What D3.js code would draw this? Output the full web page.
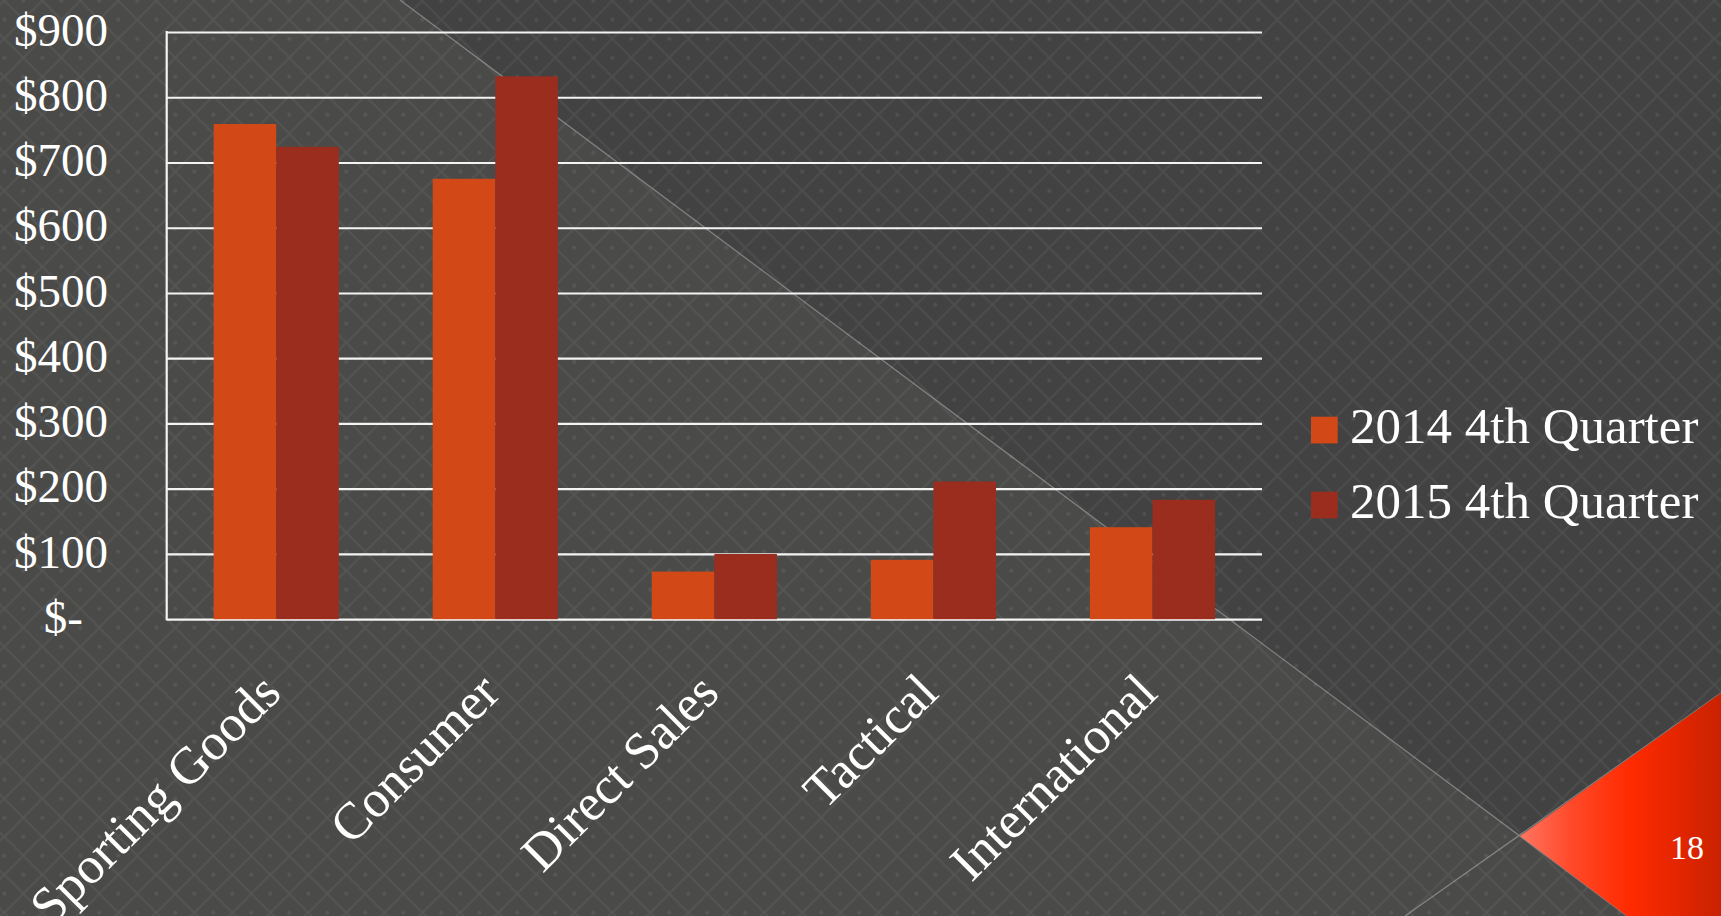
<!DOCTYPE html>
<html><head><meta charset="utf-8">
<script src="https://cdn.jsdelivr.net/npm/d3@7"></script>
<style>
html,body{margin:0;padding:0;background:#444;overflow:hidden}
svg{display:block}
text{font-family:"Liberation Serif","Palatino Linotype","Book Antiqua",Palatino,serif;fill:#fff}
</style></head><body>
<svg id="chart" width="1721" height="916"></svg>
<script>
// ---- data ----
const categories = ["Sporting Goods", "Consumer", "Direct Sales", "Tactical", "International"];
const seriesNames = ["2014 4th Quarter", "2015 4th Quarter"];
const values2014 = [759, 675, 73, 91, 141];
const values2015 = [724, 832, 100, 211, 183];
const yTicks = [0, 100, 200, 300, 400, 500, 600, 700, 800, 900];
const yTickLabels = ["$-", "$100", "$200", "$300", "$400", "$500", "$600", "$700", "$800", "$900"];
const slideNumber = "18";

// ---- layout ----
const W = 1721, H = 916;
const plot = {left: 166.7, right: 1262, top: 32, bottom: 619.2};
const colors = ["#D34817", "#9B2D1F"];

const svg = d3.select("#chart");
const defs = svg.append("defs");

// background pattern
const pat = defs.append("pattern").attr("id", "diam")
  .attr("patternUnits", "userSpaceOnUse").attr("width", 38).attr("height", 38)
  .attr("x", 4.3).attr("y", -18.3);
pat.append("path").attr("d", "M19,0L38,19L19,38L0,19Z")
  .attr("fill", "none").attr("stroke", "rgba(255,255,255,0.06)").attr("stroke-width", 1.8);
[[19,19],[0,0],[38,0],[0,38],[38,38]].forEach(p => pat.append("circle")
  .attr("cx", p[0]).attr("cy", p[1]).attr("r", 2).attr("fill", "rgba(255,255,255,0.075)"));

const grad = defs.append("linearGradient").attr("id", "redg")
  .attr("gradientUnits", "userSpaceOnUse").attr("x1", 1520).attr("y1", 0).attr("x2", 1721).attr("y2", 0);
grad.append("stop").attr("offset", "0").attr("stop-color", "#ff7562");
grad.append("stop").attr("offset", "0.25").attr("stop-color", "#ff4a2a");
grad.append("stop").attr("offset", "0.55").attr("stop-color", "#ff2a00");
grad.append("stop").attr("offset", "1").attr("stop-color", "#c92200");

svg.append("rect").attr("width", W).attr("height", H).attr("fill", "#424242");
svg.append("path").attr("d", "M0,0L400,0L1520,836L1627,916L0,916Z").attr("fill", "#4a4a49");
svg.append("rect").attr("width", W).attr("height", H).attr("fill", "url(#diam)");
svg.append("path").attr("d", "M400,0L1627,916M1405,916L1721,693")
  .attr("stroke", "rgba(200,200,200,0.45)").attr("stroke-width", 1.3).attr("fill", "none");
svg.append("path").attr("d", "M1520,836L1721,693L1721,916L1627,916Z").attr("fill", "url(#redg)");
svg.append("text").attr("x", 1687).attr("y", 859).attr("text-anchor", "middle")
  .attr("font-size", 34).text(slideNumber);

// ---- scales ----
const x0 = d3.scaleBand().domain(categories).range([plot.left, plot.right]).paddingInner(0).paddingOuter(0);
const x1 = d3.scaleBand().domain(seriesNames).range([0, x0.bandwidth()]).paddingInner(0).paddingOuter(0.75);
const y = d3.scaleLinear().domain([0, 900]).range([plot.bottom, plot.top]);

// gridlines + y labels
const yAxis = d3.axisLeft(y).tickValues(yTicks)
  .tickFormat((d, i) => yTickLabels[i])
  .tickSize(-(plot.right - plot.left)).tickPadding(58.7);
const gy = svg.append("g").attr("transform", `translate(${plot.left},0)`).call(yAxis);
gy.select(".domain").remove();
gy.selectAll(".tick line").attr("stroke", "#f4f4f4").attr("stroke-width", 2.2);
gy.selectAll(".tick text").attr("font-size", 47).attr("fill", "#fff")
  .attr("font-family", "Liberation Serif").attr("dy", "0.28em");
gy.selectAll(".tick text").filter(d => d === 0).attr("x", -(plot.left - 83));

svg.append("line").attr("x1", plot.left).attr("x2", plot.left)
  .attr("y1", y(900) - 1).attr("y2", y(0) + 1).attr("stroke", "#f4f4f4").attr("stroke-width", 2.2);

// bars
const seriesValues = [values2014, values2015];
const groups = svg.append("g").selectAll("g").data(categories).join("g")
  .attr("transform", d => `translate(${x0(d)},0)`);
groups.selectAll("rect").data((d, i) => seriesNames.map((s, j) => ({s, v: seriesValues[j][i], j})))
  .join("rect")
  .attr("x", d => x1(d.s)).attr("width", x1.bandwidth())
  .attr("y", d => y(d.v)).attr("height", d => y(0) - y(d.v))
  .attr("fill", d => colors[d.j]);

// x labels
svg.append("g").selectAll("text").data(categories).join("text")
  .attr("transform", d => `translate(${x0(d) + x0.bandwidth() / 2 + 7},${plot.bottom + 76}) rotate(-45)`)
  .attr("text-anchor", "end").attr("font-size", 52).text(d => d);

// legend
const leg = svg.append("g").selectAll("g").data(seriesNames).join("g")
  .attr("transform", (d, i) => `translate(1311,${416.7 + i * 75})`);
leg.append("rect").attr("width", 26.7).attr("height", 26.7).attr("fill", (d, i) => colors[i]);
leg.append("text").attr("x", 39).attr("y", 26.5).attr("font-size", 51).text(d => d);
</script>
</body></html>
